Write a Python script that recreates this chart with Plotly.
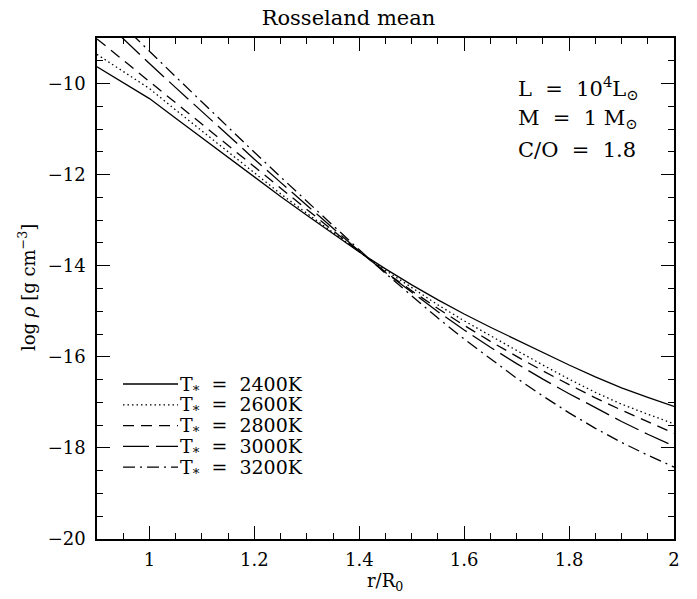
import plotly.graph_objects as go

# Radius grid (r / R0)
r_over_r0 = [0.90, 0.95, 1.00, 1.05, 1.10, 1.15, 1.20, 1.25, 1.30, 1.35, 1.40, 1.45,
             1.50, 1.55, 1.60, 1.65, 1.70, 1.75, 1.80, 1.85, 1.90, 1.95, 2.00]

# log rho [g cm^-3] for each stellar effective temperature
logrho_2400 = [-9.63, -9.98, -10.33, -10.76, -11.19, -11.63, -12.06, -12.48, -12.89, -13.30,
               -13.70, -14.07, -14.42, -14.75, -15.06, -15.35, -15.63, -15.91, -16.18, -16.44,
               -16.68, -16.89, -17.09]
logrho_2600 = [-9.36, -9.74, -10.11, -10.58, -11.04, -11.52, -11.98, -12.42, -12.85, -13.28,
               -13.69, -14.10, -14.49, -14.86, -15.21, -15.54, -15.86, -16.18, -16.49, -16.78,
               -17.04, -17.26, -17.47]
logrho_2800 = [-9.02, -9.49, -9.96, -10.43, -10.90, -11.37, -11.84, -12.31, -12.77, -13.23,
               -13.69, -14.14, -14.55, -14.94, -15.31, -15.66, -15.99, -16.31, -16.61, -16.90,
               -17.17, -17.43, -17.68]
logrho_3000 = [-8.47, -9.02, -9.56, -10.09, -10.62, -11.14, -11.66, -12.17, -12.68, -13.18,
               -13.68, -14.15, -14.59, -15.01, -15.41, -15.79, -16.15, -16.49, -16.81, -17.12,
               -17.42, -17.70, -17.96]
logrho_3200 = [-8.17, -8.72, -9.29, -9.85, -10.41, -10.96, -11.51, -12.05, -12.59, -13.12,
               -13.65, -14.17, -14.67, -15.15, -15.61, -16.05, -16.47, -16.86, -17.23, -17.57,
               -17.88, -18.16, -18.42]

temperatures = ["2400K", "2600K", "2800K", "3000K", "3200K"]
series = [logrho_2400, logrho_2600, logrho_2800, logrho_3000, logrho_3200]
dashes = ["solid", "1.5px,3px", "11px,7px", "26px,7px", "12px,5px,2px,5px"]

FONT = "DejaVu Serif"
W, H = 697, 599
L, R, T, B = 97, 23, 38, 60

fig = go.Figure()
for name, ys, dash in zip(temperatures, series, dashes):
    fig.add_trace(go.Scatter(
        x=r_over_r0, y=ys, mode="lines", name=name, showlegend=False,
        line=dict(color="black", width=1.3, dash=dash),
    ))

# Hand-drawn key in the lower left (pixel positions converted to paper units)
pw, ph = W - L - R, H - T - B


def px(xp):
    return (xp - L) / pw


def py(yp):
    return (H - B - yp) / ph


shapes = []
annotations = []
key_y0, key_dy = 384, 20.8
for i, (name, dash) in enumerate(zip(temperatures, dashes)):
    yy = key_y0 + i * key_dy
    shapes.append(dict(type="line", xref="paper", yref="paper",
                       x0=px(123), x1=px(178), y0=py(yy), y1=py(yy),
                       line=dict(color="black", width=1.3, dash=dash)))
    annotations.append(dict(
        xref="paper", yref="paper", x=px(178), y=py(yy + 1), xanchor="left", yanchor="middle",
        text="T<sub>*</sub>\u00a0\u00a0=\u00a0\u00a0" + name, showarrow=False,
        font=dict(family=FONT, size=19, color="black"),
    ))

# Model parameters, upper right
params = ["L\u00a0\u00a0=\u00a0\u00a010<sup>4</sup>L<sub>\u2299</sub>",
          "M\u00a0\u00a0=\u00a0\u00a01\u00a0M<sub>\u2299</sub>",
          "C/O\u00a0\u00a0=\u00a0\u00a01.8"]
for i, t in enumerate(params):
    annotations.append(dict(
        xref="paper", yref="paper", x=px(516), y=py(88 + i * 31),
        xanchor="left", yanchor="middle", text=t, showarrow=False,
        font=dict(family=FONT, size=21, color="black"),
    ))

# Axis titles
annotations.append(dict(
    xref="paper", yref="paper", x=px(385), y=py(582), xanchor="center", yanchor="middle",
    text="r/R<sub>0</sub>", showarrow=False, font=dict(family=FONT, size=18, color="black"),
))
annotations.append(dict(
    xref="paper", yref="paper", x=px(27), y=py(288), xanchor="center", yanchor="middle",
    text="log <i>\u03c1</i> [g cm<sup>\u22123</sup>]", textangle=-90, showarrow=False,
    font=dict(family=FONT, size=18, color="black"),
))

axis_common = dict(
    showline=True, linecolor="black", linewidth=1.5, mirror="ticks",
    ticks="inside", ticklen=13, tickwidth=1.2, tickcolor="black",
    showgrid=False, zeroline=False,
    tickfont=dict(family=FONT, size=18, color="black"),
)

fig.update_layout(
    width=W, height=H,
    margin=dict(l=L, r=R, t=T, b=B),
    paper_bgcolor="white", plot_bgcolor="white",
    title=dict(text="Rosseland mean", x=0.5, xanchor="center", y=1 - 18 / H, yanchor="middle",
               font=dict(family=FONT, size=21, color="black")),
    xaxis=dict(range=[0.9, 2.0], tick0=0, dtick=0.2, ticklabelstandoff=4,
               minor=dict(dtick=0.05, ticklen=6.5, tickwidth=1.2, tickcolor="black", ticks="inside"),
               **axis_common),
    yaxis=dict(range=[-20, -9], tick0=-20, dtick=2, ticklabelstandoff=6,
               minor=dict(dtick=0.5, ticklen=6.5, tickwidth=1.2, tickcolor="black", ticks="inside"),
               **axis_common),
    shapes=shapes,
    annotations=annotations,
)

fig.write_html("out.html")
